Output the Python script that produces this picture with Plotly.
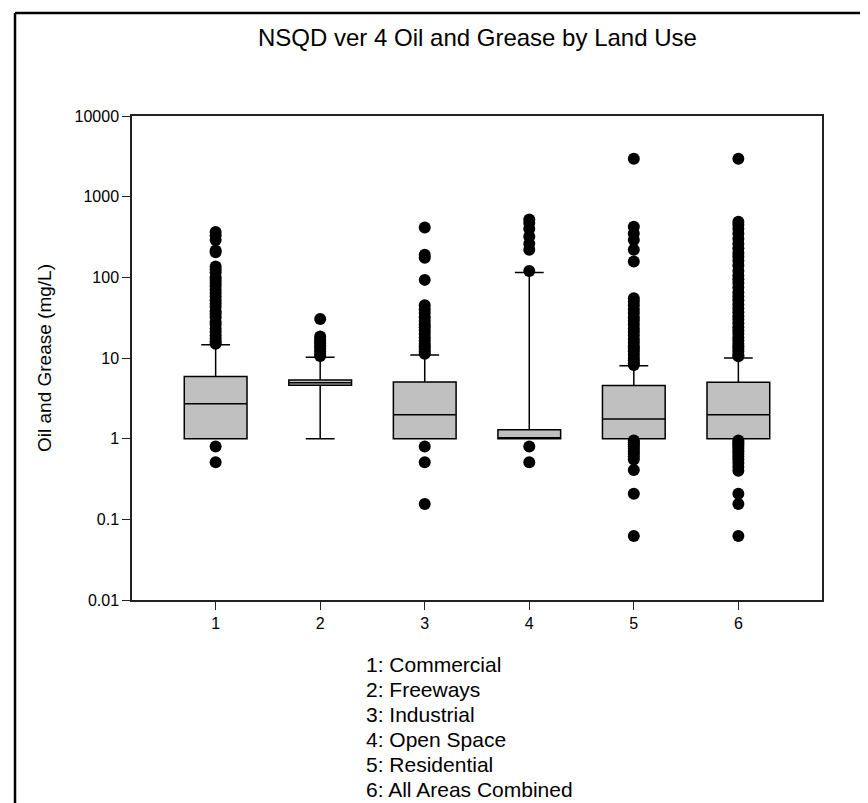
import plotly.graph_objects as go

# ---------------- data ----------------
categories = [1, 2, 3, 4, 5, 6]
tick_text_x = ["1", "2", "3", "4", "5", "6"]
q1 = [1.0, 4.6, 1.0, 1.0, 1.0, 1.0]
median = [2.7, 4.95, 1.98, 1.0, 1.75, 1.98]
q3 = [5.9, 5.35, 5.03, 1.29, 4.55, 5.0]
lower_whisker = [1.0, 1.0, 1.0, 1.0, 1.0, 1.0]
upper_whisker = [14.6, 10.2, 10.9, 115, 8.0, 10.0]

outliers_1 = [365, 330, 290, 215, 205, 136, 125, 115, 100, 93, 85, 78, 70, 64, 58, 52,
              47, 43, 38, 35, 32, 28, 26, 23, 21, 19, 17.5, 16, 15, 0.8, 0.51]
outliers_2 = [30.5, 18.5, 17, 16, 15, 14, 13, 12, 11.2, 10.6]
outliers_3 = [415, 190, 175, 93, 45, 40, 36, 32, 29, 26, 24, 22, 20, 18, 16.5, 15, 14,
              13, 12, 11.3, 0.8, 0.51, 0.155]
outliers_4 = [520, 470, 400, 320, 260, 220, 120, 0.8, 0.51]
outliers_5 = [2950, 424, 350, 290, 220, 157, 55, 50, 45, 40, 36, 32, 29, 26, 23, 21, 19,
              17, 15.5, 14, 13, 12, 11, 10, 9.3, 8.6, 8.2,
              0.95, 0.9, 0.85, 0.8, 0.75, 0.7, 0.65, 0.6, 0.55, 0.41, 0.207, 0.062]
outliers_6 = [2950, 490, 450, 400, 350, 300, 260, 230, 200, 180, 160, 140, 120, 105, 95,
              85, 75, 65, 58, 52, 46, 41, 37, 33, 30, 27, 24, 22, 20, 18, 16.5, 15, 14,
              13, 12, 11, 10.5,
              0.95, 0.9, 0.85, 0.8, 0.75, 0.7, 0.65, 0.6, 0.55, 0.5, 0.45, 0.4, 0.207,
              0.155, 0.062]
outliers = [outliers_1, outliers_2, outliers_3, outliers_4, outliers_5, outliers_6]

y_tickvals = [0.01, 0.1, 1, 10, 100, 1000, 10000]
y_ticktext = ["0.01", "0.1", "1", "10", "100", "1000", "10000"]

title_text = "NSQD ver 4 Oil and Grease by Land Use"
y_title = "Oil and Grease (mg/L)"
legend_lines = ["1: Commercial", "2: Freeways", "3: Industrial", "4: Open Space",
                "5: Residential", "6: All Areas Combined"]

# ---------------- figure ----------------
FONT = "Liberation Sans, Arial, sans-serif"
W, H = 868, 803
L, R, T, B = 124, 54, 108, 211
pw, ph = W - L - R, H - T - B

fig = go.Figure()
for i, c in enumerate(categories):
    fig.add_trace(go.Box(
        x=[c], q1=[q1[i]], median=[median[i]], q3=[q3[i]],
        lowerfence=[lower_whisker[i]], upperfence=[upper_whisker[i]],
        boxpoints=False, width=0.6, whiskerwidth=0.46,
        fillcolor="#c0c0c0", line=dict(color="black", width=1.5),
        showlegend=False, hoverinfo="skip"))
for i, c in enumerate(categories):
    fig.add_trace(go.Scatter(
        x=[c] * len(outliers[i]), y=outliers[i], mode="markers",
        marker=dict(color="black", size=12, line=dict(width=0)),
        showlegend=False, hoverinfo="skip"))

def px_x(p):
    return (p - L) / pw

def px_y(p):
    return (H - B - p) / ph

annotations = [
    dict(text=title_text, x=0.5, y=px_y(30), xref="paper", yref="paper",
         showarrow=False, font=dict(size=24, family=FONT, color="black"),
         xanchor="center", yanchor="middle"),
    dict(text=y_title, x=px_x(36), y=0.5, xref="paper", yref="paper",
         showarrow=False, textangle=-90, font=dict(size=19, family=FONT, color="black"),
         xanchor="center", yanchor="middle"),
]
legend_y = [656, 681, 706, 731, 756, 781]
for line, yy in zip(legend_lines, legend_y):
    annotations.append(dict(text=line, x=px_x(356), y=px_y(yy), xref="paper",
                            yref="paper", showarrow=False, align="left",
                            font=dict(size=21, family=FONT, color="black"),
                            xanchor="left", yanchor="middle"))

shapes = [
    dict(type="line", xref="paper", yref="paper", x0=px_x(7), x1=px_x(W + 2),
         y0=px_y(5), y1=px_y(5), line=dict(color="black", width=2.5)),
    dict(type="line", xref="paper", yref="paper", x0=px_x(7), x1=px_x(7),
         y0=px_y(5), y1=px_y(H + 2), line=dict(color="black", width=2.5)),
]

fig.update_layout(
    width=W, height=H, margin=dict(l=L, r=R, t=T, b=B),
    plot_bgcolor="white", paper_bgcolor="white",
    font=dict(family=FONT, color="black", size=16),
    annotations=annotations, shapes=shapes, showlegend=False,
    xaxis=dict(range=[0.2, 6.8], tickvals=categories, ticktext=tick_text_x,
               showgrid=False, zeroline=False, showline=True, mirror=True,
               linecolor="#222", linewidth=1.5, ticks="outside", ticklen=8,
               tickcolor="#222", tickfont=dict(size=16)),
    yaxis=dict(type="log", range=[-2, 4], tickvals=y_tickvals, ticktext=y_ticktext,
               showgrid=False, zeroline=False, showline=True, mirror=True,
               linecolor="#222", linewidth=1.5, ticks="outside", ticklen=8,
               tickcolor="#222", tickfont=dict(size=16)),
)

fig.write_html("out.html")
